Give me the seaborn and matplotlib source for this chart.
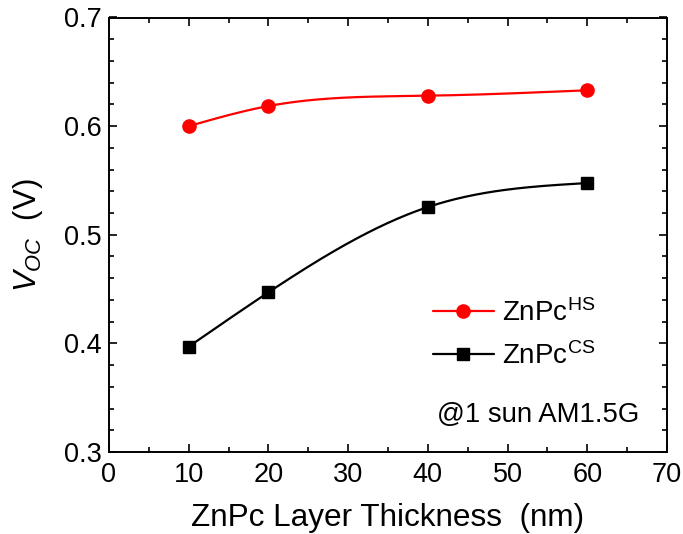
import numpy as np
import pandas as pd
import matplotlib
matplotlib.use("Agg")
import matplotlib.pyplot as plt
from matplotlib.lines import Line2D
from matplotlib.ticker import MultipleLocator
import seaborn as sns

thickness = [10, 20, 40, 60]
voc_hs = [0.600, 0.6185, 0.628, 0.633]
voc_cs = [0.397, 0.447, 0.5255, 0.5476]
labels = [r"ZnPc$^{\mathrm{HS}}$", r"ZnPc$^{\mathrm{CS}}$"]
colors = ["#ff0000", "#000000"]


def natural_spline(x, y, xs):
    x = np.asarray(x, float); y = np.asarray(y, float)
    n = len(x); h = np.diff(x)
    A = np.zeros((n, n)); r = np.zeros(n)
    A[0, 0] = 1; A[-1, -1] = 1
    for i in range(1, n - 1):
        A[i, i - 1] = h[i - 1]; A[i, i] = 2 * (h[i - 1] + h[i]); A[i, i + 1] = h[i]
        r[i] = 6 * ((y[i + 1] - y[i]) / h[i] - (y[i] - y[i - 1]) / h[i - 1])
    M = np.linalg.solve(A, r)
    out = np.empty_like(xs)
    for k, xv in enumerate(xs):
        i = min(max(np.searchsorted(x, xv) - 1, 0), n - 2)
        t1 = x[i + 1] - xv; t0 = xv - x[i]
        out[k] = (M[i] * t1**3 + M[i + 1] * t0**3) / (6 * h[i]) \
            + (y[i] / h[i] - M[i] * h[i] / 6) * t1 + (y[i + 1] / h[i] - M[i + 1] * h[i] / 6) * t0
    return out


sns.set_theme(style="ticks")
plt.rcParams["font.family"] = ["Liberation Sans", "DejaVu Sans"]
plt.rcParams["mathtext.fontset"] = "custom"
plt.rcParams["mathtext.rm"] = "Liberation Sans"
plt.rcParams["mathtext.it"] = "Liberation Sans:italic"
for k in ["text.color", "axes.labelcolor", "xtick.color", "ytick.color", "axes.edgecolor"]:
    plt.rcParams[k] = "black"

fig = plt.figure(figsize=(6.83, 5.34), dpi=100)
ax = fig.add_axes([109 / 683, 1 - 452 / 534, (667 - 109) / 683, (452 - 17.5) / 534])

xs = np.linspace(10, 60, 200)
for vals, col, mk, ms in [(voc_hs, colors[0], "o", 9.5), (voc_cs, colors[1], "s", 8.0)]:
    curve = pd.DataFrame({"x": xs, "y": natural_spline(thickness, vals, xs)})
    sns.lineplot(data=curve, x="x", y="y", color=col, lw=1.6, ax=ax, legend=False)
    pts = pd.DataFrame({"x": thickness, "y": vals})
    ax.plot(pts["x"], pts["y"], linestyle="none", marker=mk, ms=ms, color=col, mec=col)

ax.set_xlim(0, 70)
ax.set_ylim(0.3, 0.7)
ax.xaxis.set_major_locator(MultipleLocator(10))
ax.xaxis.set_minor_locator(MultipleLocator(5))
ax.yaxis.set_major_locator(MultipleLocator(0.1))
ax.yaxis.set_minor_locator(MultipleLocator(0.02))
ax.tick_params(which="both", direction="in", top=True, right=True, labelsize=19.5, width=1.2)
ax.tick_params(axis="x", pad=7)
ax.tick_params(axis="y", pad=5)
ax.tick_params(which="major", length=6)
ax.tick_params(which="minor", length=3.5)
for s in ax.spines.values():
    s.set_linewidth(1.4)
    s.set_color("black")

ax.set_xlabel("ZnPc Layer Thickness  (nm)", fontsize=22.7, labelpad=11)
ax.set_ylabel(r"$V_{OC}$  (V)", fontsize=22.5, labelpad=14)

handles = [Line2D([], [], color=colors[0], marker="o", ms=9.5, lw=1.6),
           Line2D([], [], color=colors[1], marker="s", ms=8.0, lw=1.6)]
ax.legend(handles, labels, loc="center left", bbox_to_anchor=(0.535, 0.27), frameon=False,
          fontsize=20, handlelength=2.2, handletextpad=0.3, labelspacing=0.55)
ax.text(0.95, 0.085, "@1 sun AM1.5G", transform=ax.transAxes, ha="right", va="center", fontsize=19.8)

fig.savefig("out.png", dpi=100)
